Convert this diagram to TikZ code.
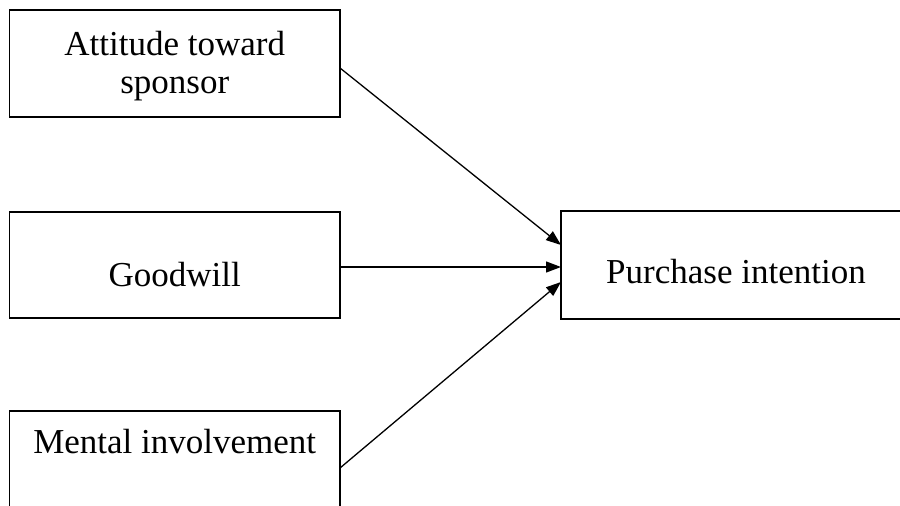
\documentclass[tikz,border=0pt]{standalone}
\usepackage{fontspec}
\setmainfont{Liberation Serif}
\usetikzlibrary{arrows.meta}
\begin{document}
\begin{tikzpicture}[x=1pt,y=-1pt,
  boxstyle/.style={draw=black,line width=1.5pt},
  areastyle/.style={inner sep=0pt,draw=none},
  lbl/.style={font=\fontsize{35}{38}\selectfont,inner sep=0pt,anchor=base,align=center},
  conn/.style={line width=1.3pt,-{Triangle[length=15pt,width=11pt]}}]
\clip (0,0) rectangle (900,506);
% boxes
\draw[boxstyle] (9.5,10) rectangle (340,117);
\node[areastyle,minimum width=330.5pt,minimum height=107pt] (b1) at (174.75,63.5) {};
\draw[boxstyle] (9.5,212) rectangle (340,318);
\node[areastyle,minimum width=330.5pt,minimum height=106pt] (b2) at (174.75,265) {};
\draw[boxstyle] (9.5,411) rectangle (340,520);
\node[areastyle,minimum width=330.5pt,minimum height=109pt] (b3) at (174.75,465.5) {};
\draw[boxstyle] (561,211) rectangle (910,319);
\node[areastyle,minimum width=349pt,minimum height=108pt] (p) at (735.5,265) {};
% texts
\node[lbl] (t1) at (174.75,93) {Attitude toward\\sponsor};
\node[lbl] (t2) at (174.75,286) {Goodwill};
\node[lbl] (t3) at (174.75,453) {Mental involvement};
\node[lbl] (t4) at (736,283) {Purchase intention};
% connectors
\coordinate (s1) at (340,68);
\coordinate (s2) at (340,267);
\coordinate (s3) at (340,468);
\coordinate (e1) at (561,245);
\coordinate (e2) at (561,267);
\coordinate (e3) at (561,282);
\draw[conn] (s1) -- (e1);
\draw[conn] (s2) -- (e2);
\draw[conn] (s3) -- (e3);
\end{tikzpicture}
\end{document}
